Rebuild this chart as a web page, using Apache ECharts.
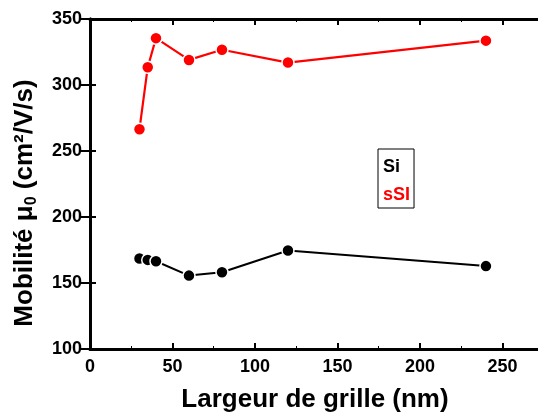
<!DOCTYPE html>
<html><head><meta charset="utf-8">
<script src="https://cdn.jsdelivr.net/npm/echarts@6/dist/echarts.min.js"></script>
<style>html,body{margin:0;padding:0;background:#fff}#c{width:538px;height:414px}</style>
</head><body><div id="c"></div>
<script>
var widths = [30, 35, 40, 60, 80, 120, 240];
var siValues = [168.5, 167.5, 166.5, 155.6, 158.2, 174.6, 162.8];
var ssiValues = [266.5, 313.5, 335.5, 319, 326.7, 317, 333.6];
var xTicks = [0, 50, 100, 150, 200, 250];
var yTicks = [100, 150, 200, 250, 300, 350];
var seriesNames = ['Si', 'sSI'];

var FONT = "'Liberation Sans', Arial, sans-serif";
function pairs(xs, ys) { return xs.map(function (x, i) { return [x, ys[i]]; }); }

var chart = echarts.init(document.getElementById('c'), null, {renderer: 'canvas'});
function axisLine() { return {lineStyle: {color: '#000', width: 3}}; }
function tick(len) { return {inside: true, length: len || 6, lineStyle: {width: 2, color: '#000'}}; }
var opt = {
  animation: false,
  backgroundColor: '#fff',
  grid: {left: 90, top: 19, width: 456, height: 330, containLabel: false, outerBoundsMode: 'none'},
  legend: {
    orient: 'vertical', left: 378, top: 149, selectedMode: false,
    borderColor: '#000', borderWidth: 1, padding: [9, 4, 4, 0],
    itemWidth: 0, itemHeight: 18, itemGap: 10, icon: 'none',
    textStyle: {fontFamily: FONT, fontWeight: 'bold', fontSize: 18},
    data: [
      {name: seriesNames[0], textStyle: {color: '#000'}},
      {name: seriesNames[1], textStyle: {color: '#ff0000'}}
    ]
  },
  xAxis: [{
    type: 'value', min: 0, max: 276.4, interval: 50, position: 'bottom',
    name: 'Largeur de grille (nm)', nameLocation: 'middle', nameGap: 38,
    nameTextStyle: {fontFamily: FONT, fontWeight: 'bold', fontSize: 26, color: '#000', padding: [0, 6, 0, 0]},
    axisLine: axisLine(),
    axisTick: tick(),
    minorTick: {show: true, splitNumber: 2, length: 3, lineStyle: {width: 1, color: '#000'}},
    axisLabel: {margin: 9, fontFamily: FONT, fontWeight: 'bold', fontSize: 18, color: '#000',
      formatter: function (v) { return xTicks.indexOf(v) >= 0 ? String(v) : ''; }},
    splitLine: {show: false}
  }, {
    type: 'value', min: 0, max: 276.4, interval: 50, position: 'top',
    axisLine: axisLine(),
    axisTick: tick(),
    minorTick: {show: true, splitNumber: 2, length: 3, lineStyle: {width: 1, color: '#000'}},
    axisLabel: {show: false}, splitLine: {show: false}
  }],
  yAxis: [{
    type: 'value', min: 100, max: 350, interval: 50, position: 'left',
    name: 'Mobilité μ{sub|0} (cm²/V/s)', nameLocation: 'middle', nameGap: 50, nameRotate: 90,
    nameTextStyle: {fontFamily: FONT, fontWeight: 'bold', fontSize: 26, color: '#000',
      padding: [0, 38, 0, 0],
      rich: {sub: {fontFamily: FONT, fontWeight: 'bold', fontSize: 16, color: '#000', verticalAlign: 'bottom', padding: [14, 0, 0, 0]}}},
    axisLine: axisLine(),
    axisTick: tick(),
    axisLabel: {margin: 8, fontFamily: FONT, fontWeight: 'bold', fontSize: 18, color: '#000',
      formatter: function (v) { return yTicks.indexOf(v) >= 0 ? String(v) : ''; }},
    splitLine: {show: false}
  }, {
    type: 'value', min: 100, max: 350, interval: 50, position: 'right',
    axisLine: axisLine(),
    axisTick: tick(10),
    axisLabel: {show: false}, splitLine: {show: false}
  }],
  series: [{
    name: seriesNames[0], type: 'line', xAxisIndex: 0, yAxisIndex: 0,
    data: pairs(widths, siValues),
    symbol: 'circle', symbolSize: 12,
    lineStyle: {color: '#000', width: 2},
    itemStyle: {color: '#000', borderColor: '#fff', borderWidth: 1.5}
  }, {
    name: seriesNames[1], type: 'line', xAxisIndex: 0, yAxisIndex: 0,
    data: pairs(widths, ssiValues),
    symbol: 'circle', symbolSize: 12,
    lineStyle: {color: '#ff0000', width: 2.2},
    itemStyle: {color: '#ff0000', borderColor: '#fff', borderWidth: 1.5}
  }]
};
chart.setOption(opt);
</script></body></html>
